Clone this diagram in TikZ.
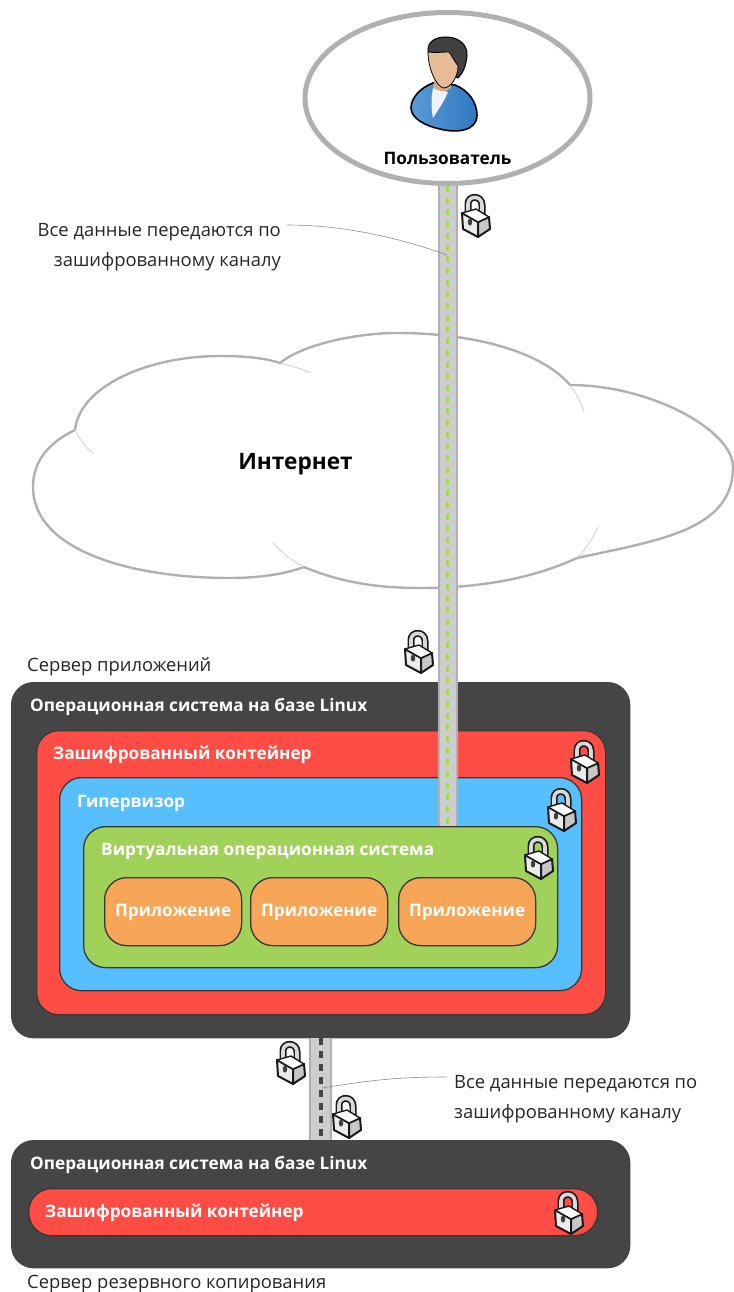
\documentclass[tikz,border=0pt]{standalone}
\usepackage{fontspec}
\setmainfont{Open Sans}
\usetikzlibrary{positioning,shapes.geometric}

\definecolor{osgray}{HTML}{454545}
\definecolor{cryptred}{HTML}{FF4D45}
\definecolor{hyperblue}{HTML}{58BFFF}
\definecolor{vmgreen}{HTML}{A0D25A}
\definecolor{apporange}{HTML}{F7A556}
\definecolor{pipegray}{HTML}{CDCDCD}
\definecolor{edgegray}{HTML}{B0B0B0}
\definecolor{dashgreen}{HTML}{9FDD4E}
\definecolor{coatleft}{HTML}{5A9BD5}
\definecolor{coatright}{HTML}{2F78C2}
\definecolor{skintone}{HTML}{E6BC96}

\tikzset{
  layerbox/.style={draw=black!78, fill=#1, line width=1.3pt, rounded corners=22pt, inner sep=0pt, anchor=north west},
  whitetext/.style={text=white, font=\fontsize{17.2}{20}\bfseries\selectfont, anchor=west, inner sep=0pt},
  plaintext/.style={text=black!85, font=\fontsize{18.4}{30}\selectfont, inner sep=0pt},
  leader/.style={draw=black!45, line width=0.6pt},
  pipeedge/.style={draw=edgegray, line width=20pt},
  pipefill/.style={draw=pipegray, line width=16pt},
  padlock/.pic={
    % shackle
    \draw[black!90, line width=7pt] (-7,2) -- (-7,-10) .. controls (-7,-19) and (7,-19) .. (7,-9) -- (7,5);
    \draw[white!85!black, line width=3.6pt] (-7,2) -- (-7,-10) .. controls (-7,-19) and (7,-19) .. (7,-9) -- (7,5);
    % body
    \draw[black!90, line width=2pt, line join=round, fill=white!92!black] (-13,-1) -- (-12,15) -- (3,23) -- (3,8) -- cycle;
    \draw[black!90, line width=2pt, line join=round, fill=white!78!black] (3,8) -- (3,23) -- (15,15) -- (14,3) -- cycle;
    \draw[black!90, line width=1.4pt, line join=round, fill=white] (-13,-1) -- (3,8) -- (14,3) -- (1,-5) -- cycle;
    \fill[black!75] (-5,8) ellipse (2.2pt and 3.6pt);
  }
}

\begin{document}
\begin{tikzpicture}[x=1pt, y=-1pt]
\useasboundingbox (0,0) rectangle (733,1292);

% Internet cloud
\draw[edgegray, line width=2.4pt, fill=white]
  (75,430) .. controls (80,385) and (150,356) .. (220,356)
  .. controls (245,356) and (265,358) .. (280,363)
  .. controls (305,343) and (360,333) .. (397,333)
  .. controls (470,333) and (540,350) .. (570,385)
  .. controls (650,385) and (733,430) .. (733,467)
  .. controls (733,530) and (660,540) .. (577,558)
  .. controls (540,575) and (490,588) .. (420,588)
  .. controls (370,588) and (335,580) .. (304,567)
  .. controls (285,574) and (260,578) .. (229,578)
  .. controls (130,578) and (33,550) .. (33,487)
  .. controls (33,460) and (50,442) .. (75,430);
\draw[edgegray!60, line width=0.8pt] (75,430) .. controls (80,440) and (85,447) .. (93,453);
\draw[edgegray!60, line width=0.8pt] (280,363) .. controls (292,366) and (302,369) .. (311,373);
\draw[edgegray!60, line width=0.8pt] (570,385) .. controls (576,393) and (581,402) .. (584,412);
\draw[edgegray!60, line width=0.8pt] (577,558) .. controls (586,549) and (593,538) .. (598,527);
\draw[edgegray!60, line width=0.8pt] (304,567) .. controls (292,561) and (281,552) .. (273,543);
\node[text=black, font=\fontsize{22.6}{26}\bfseries\selectfont, inner sep=0pt] (internet) at (295.5,464) {Интернет};

% Application server
\node[plaintext, anchor=west] (srvname) at (27,667) {Сервер приложений};
\node[layerbox=osgray, draw=osgray, minimum width=618pt, minimum height=355pt] (srvos) at (11,682) {};
\node[whitetext] (srvoslabel) at (30,707) {Операционная система на базе Linux};
\node[layerbox=cryptred, minimum width=569pt, minimum height=284pt] (srvcrypt) at (36,730) {};
\node[whitetext] (srvcryptlabel) at (53,755) {Зашифрованный контейнер};
\node[layerbox=hyperblue, minimum width=522pt, minimum height=213pt] (hyper) at (59,777) {};
\node[whitetext] (hyperlabel) at (77,803) {Гипервизор};
\node[layerbox=vmgreen, minimum width=474pt, minimum height=141pt] (vm) at (83,826) {};
\node[whitetext] (vmlabel) at (101,851) {Виртуальная операционная система};

% Applications
\foreach \n/\xpos in {appa/104, appb/250, appc/398} {
  \node[layerbox=apporange, minimum width=137pt, minimum height=68pt] (\n) at (\xpos,877) {};
  \node[whitetext, anchor=center, yshift=-1pt] (\n label) at (\n) {Приложение};
}

% User
\node[draw=edgegray, fill=white, line width=5pt, ellipse, minimum width=285pt, minimum height=171pt, inner sep=0pt] (user) at (447.5,98) {};
\node[text=black, font=\fontsize{17.2}{20}\bfseries\selectfont, inner sep=0pt] (username) at (447.5,158) {Пользователь};
% body
\draw[black, line width=1.6pt, left color=coatleft, right color=coatright]
  (433,83) .. controls (420,88) and (411,98) .. (411,108)
  .. controls (411,118) and (425,126) .. (440,129)
  .. controls (455,133) and (477,132) .. (477,115)
  .. controls (477,102) and (468,90) .. (455,85) -- cycle;
\fill[white!95!blue] (433,88) -- (448,92) .. controls (444,102) and (438,110) .. (433,118)
  .. controls (431,108) and (431,98) .. (433,88) -- cycle;
% neck
\fill[skintone!70!brown] (435,78) -- (450,78) -- (451,88) .. controls (446,93) and (438,92) .. (433,87) -- cycle;
% head
\draw[black, line width=1pt, fill=black!75]
  (428,52) .. controls (427,41) and (436,37) .. (446,37)
  .. controls (459,37) and (468,45) .. (467,56)
  .. controls (466,66) and (463,73) .. (458,78) -- (440,70) -- cycle;
\draw[black, line width=0.8pt, fill=skintone]
  (428,52) .. controls (435,53) and (442,52) .. (449,52)
  .. controls (452,56) and (455,62) .. (458,66)
  .. controls (458,76) and (452,87) .. (444,88)
  .. controls (436,87) and (428,68) .. (428,52) -- cycle;

% Encrypted channel, user to application server
\draw[pipeedge] (user.south) -- (user.south |- vm.north);
\draw[pipefill] (user.south) -- (user.south |- vm.north);
\draw[draw=dashgreen, line width=3.4pt, dash pattern=on 6pt off 5.7pt] (user.south) -- (user.south |- vm.north);

% Backup server
\node[layerbox=osgray, draw=osgray, minimum width=618pt, minimum height=127pt] (bakos) at (11,1140) {};
\node[whitetext] (bakoslabel) at (30,1165) {Операционная система на базе Linux};
\node[layerbox=cryptred, minimum width=569pt, minimum height=47pt, rounded corners=23pt] (bakcrypt) at (28,1188) {};
\node[whitetext] (bakcryptlabel) at (45,1213) {Зашифрованный контейнер};
\node[plaintext, anchor=west] (bakname) at (27,1284) {Сервер резервного копирования};

% Encrypted channel, application server to backup server
\draw[pipeedge, line width=23pt] (srvos.south) -- (bakos.north);
\draw[pipefill, line width=19pt] (srvos.south) -- (bakos.north);
\draw[draw=osgray, line width=4pt, dash pattern=on 7pt off 6pt] (srvos.south) -- (bakos.north);

% Notes
\coordinate (toptap) at (447,255);
\coordinate (bottomtap) at (322,1088);
\node[plaintext, align=right, anchor=east] (topnote) at (281,247) {Все данные передаются по\\зашифрованному каналу};
\node[plaintext, align=left, anchor=west] (bottomnote) at (454,1099) {Все данные передаются по\\зашифрованному каналу};
\draw[leader] ([yshift=22pt,xshift=6pt]topnote.east) .. controls +(55,0) and +(-50,-18) .. (toptap);
\draw[leader] ([yshift=22pt,xshift=-7pt]bottomnote.west) .. controls +(-50,0) and +(50,-8) .. (bottomtap);

% Locks
\foreach \lx/\ly in {475/214, 418/650, 584/760, 561/808, 538/856, 290/1061, 346/1115, 568/1211}
  \pic at (\lx,\ly) {padlock};

\end{tikzpicture}
\end{document}
